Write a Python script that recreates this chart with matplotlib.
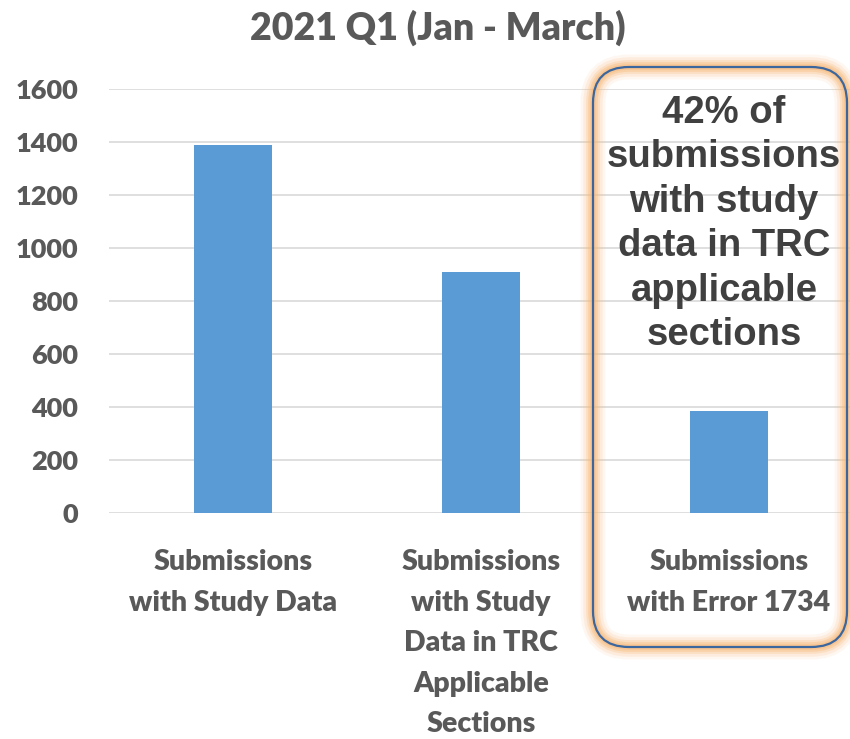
import matplotlib
matplotlib.use("Agg")
import matplotlib.pyplot as plt
from matplotlib.patches import FancyBboxPatch

categories = ["Submissions\nwith Study Data",
              "Submissions\nwith Study\nData in TRC\nApplicable\nSections",
              "Submissions\nwith Error 1734"]
values = [1390, 908, 385]
y_ticks = [0, 200, 400, 600, 800, 1000, 1200, 1400, 1600]
title = "2021 Q1 (Jan - March)"
callout = "42% of\nsubmissions\nwith study\ndata in TRC\napplicable\nsections"

W, H = 850, 739
fig = plt.figure(figsize=(W / 100, H / 100), dpi=100)
ax = fig.add_axes([109 / W, (H - 513) / H, 744 / W, 424 / H])

gray = "#595959"
ax.bar(range(len(values)), values, width=0.315, color="#5b9bd5", zorder=3)
ax.set_xlim(-0.5, 2.5)
ax.set_ylim(0, 1600)
ax.set_yticks(y_ticks)
ax.set_yticklabels([str(v) for v in y_ticks], fontfamily="Lato",
                   fontweight="heavy", fontsize=19.5, color=gray)
ax.set_xticks(range(len(categories)))
ax.set_xticklabels(categories, fontfamily="Lato", fontweight="heavy",
                   fontsize=20.5, color=gray, linespacing=1.69, va="top")
ax.tick_params(axis="y", length=0, pad=22)
ax.tick_params(axis="x", length=0, pad=26)
ax.grid(axis="y", color="#d9d9d9", linewidth=1.2, zorder=0)
for s in ax.spines.values():
    s.set_visible(False)

fig.text(438 / W, 1 - 28 / H, title, ha="center", va="center",
         fontfamily="Lato", fontweight="heavy", fontsize=27, color=gray)

# callout box with soft orange glow (inches coordinates)
x0, y0 = 593 / 100, (H - 647) / 100
bw, bh = (847 - 593) / 100, (647 - 67) / 100
for lw, a in [(18, 0.10), (14, 0.16), (10, 0.24), (7, 0.35), (4, 0.45)]:
    fig.patches.append(FancyBboxPatch(
        (x0, y0), bw, bh, boxstyle="round,pad=0,rounding_size=0.36",
        transform=fig.dpi_scale_trans, facecolor="none",
        edgecolor="#f8b878", linewidth=lw, alpha=a, zorder=5))
fig.patches.append(FancyBboxPatch(
    (x0, y0), bw, bh, boxstyle="round,pad=0,rounding_size=0.36",
    transform=fig.dpi_scale_trans, facecolor="none",
    edgecolor="#3c679e", linewidth=1.6, zorder=6))

fig.text(724 / W, 1 - 224 / H, callout, ha="center", va="center",
         fontfamily="Liberation Sans", fontweight="bold", fontsize=27.5,
         color="#404040", linespacing=1.3, zorder=7)

fig.savefig("out.png", dpi=100)
